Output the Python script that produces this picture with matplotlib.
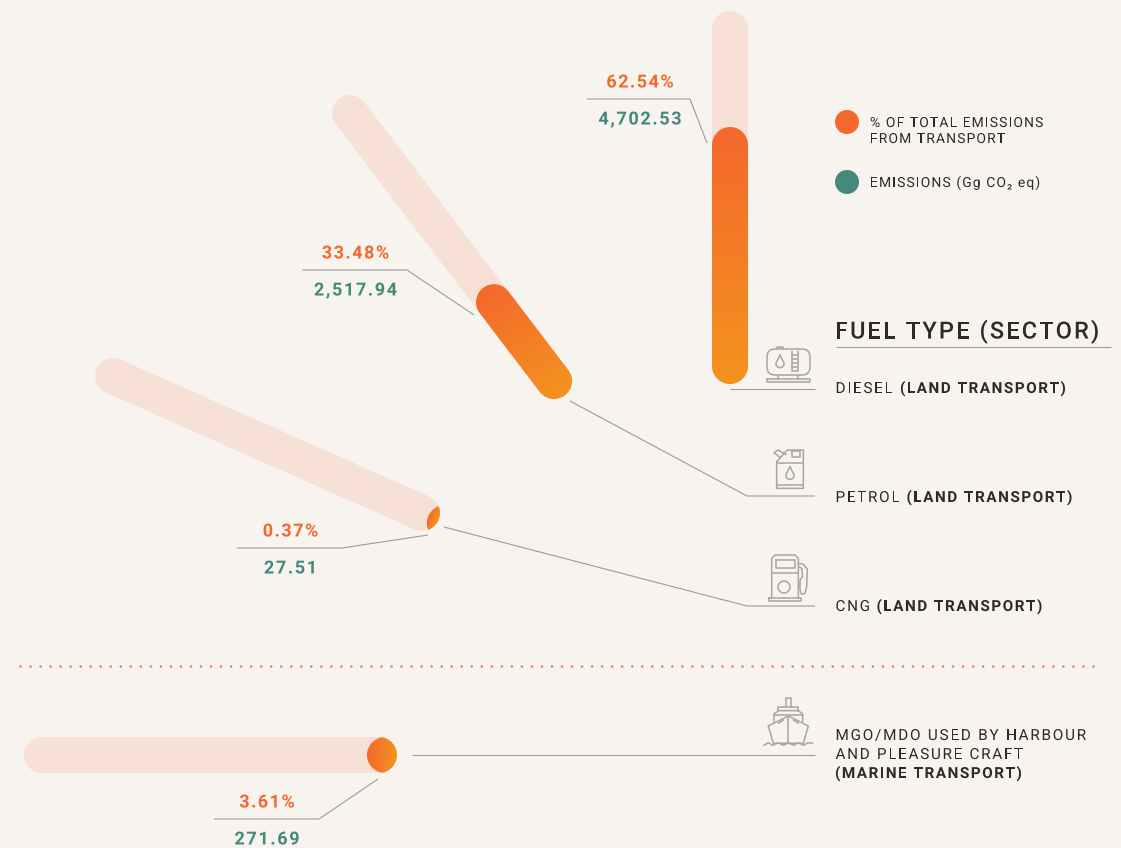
import numpy as np
import matplotlib
matplotlib.use('Agg')
import matplotlib.pyplot as plt
import matplotlib.patheffects as pe
from matplotlib.patches import Circle, FancyBboxPatch
from matplotlib.text import Text

# values
fuels = ['DIESEL', 'PETROL', 'CNG', 'MGO/MDO']
share_pct = [62.54, 33.48, 0.37, 3.61]
emissions = [4702.53, 2517.94, 27.51, 271.69]

# the picture's bar scale is not linear at the small end
scale_pct = [0.37, 3.61, 33.48, 62.54]
scale_px = [11, 30, 135, 257]

BG = '#F7F3EE'
TRACK = '#F7E0D6'
ORANGE = '#F4682D'
AMBER = '#F5931E'
GREEN = '#45897D'
DARK = '#2B2B2B'
LINE = '#9C9C9C'
ICON = '#A6A6A6'
R = 18.0

plt.rcParams['font.family'] = ['Roboto', 'DejaVu Sans']
plt.rcParams['text.hinting'] = 'none'

fig = plt.figure(figsize=(11.21, 8.48), dpi=100, facecolor=BG)
ax = fig.add_axes((0, 0, 1, 1))
ax.set_xlim(0, 1121)
ax.set_ylim(848, 0)
ax.axis('off')


class TrackedText(Text):
    # one string, drawn with extra letter spacing (matplotlib has no option for it)
    def __init__(self, x, y, s, tracking=0.0, anchor='left', **kw):
        super().__init__(x, y, s, ha='left', va='baseline', **kw)
        self.tracking = tracking
        self.anchor = anchor
        # drawn as paths, so glyphs are not snapped to whole pixels
        self.set_path_effects([pe.Normal()])

    def draw(self, renderer):
        full = self.get_text()
        x0, y0 = self.get_position()
        fp = self.get_fontproperties()

        def width(s):
            w1 = renderer.get_text_width_height_descent(s + 'x', fp, False)[0]
            w2 = renderer.get_text_width_height_descent('x', fp, False)[0]
            return w1 - w2

        total = width(full) + self.tracking * (len(full) - 1)
        start = x0 - total / 2 if self.anchor == 'center' else x0
        for i, ch in enumerate(full):
            if ch == ' ':
                continue
            self._text = ch
            self._x = start + width(full[:i]) + i * self.tracking
            super().draw(renderer)
        self._text = full
        self._x = x0


def label(x, y, s, size, color=DARK, weight='normal', tracking=1.5, anchor='left'):
    t = TrackedText(x, y, s, tracking=tracking, anchor=anchor, fontsize=size,
                    color=color, fontweight=weight)
    ax.add_artist(t)
    return t


def path_line(pts, color=LINE, lw=0.8):
    xs, ys = zip(*pts)
    ax.plot(xs, ys, color=color, lw=lw, solid_joinstyle='miter', solid_capstyle='butt', zorder=2)


def capsule_dist(px, py, a, b):
    # distance to the segment a-b, minus the radius
    ab = np.array(b, float) - np.array(a, float)
    denom = max((ab ** 2).sum(), 1e-9)
    t = np.clip(((px - a[0]) * ab[0] + (py - a[1]) * ab[1]) / denom, 0, 1)
    return np.hypot(px - a[0] - t * ab[0], py - a[1] - t * ab[1]) - R


yy, xx = np.mgrid[0:848, 0:1121]
xx = xx + 0.5
yy = yy + 0.5
c0 = np.array(matplotlib.colors.to_rgb(ORANGE))
c1 = np.array(matplotlib.colors.to_rgb(AMBER))


def bar(start, tip, value):
    start = np.array(start, float)
    tip = np.array(tip, float)
    ax.plot([start[0], tip[0]], [start[1], tip[1]], color=TRACK, lw=2 * R * 72 / 100,
            solid_capstyle='round', zorder=1)
    u = (tip - start) / np.hypot(*(tip - start))
    length = np.interp(value, scale_pct, scale_px)
    # the filled capsule starts "length" back from the end of the track, and is cut by it
    fill_start = tip + u * (2 * R - length)
    end = tip + u * R
    d = np.maximum(capsule_dist(xx, yy, fill_start, tip if length >= 2 * R else fill_start),
                   capsule_dist(xx, yy, start, tip))
    t = np.clip(1 - ((end[0] - xx) * u[0] + (end[1] - yy) * u[1]) / length, 0, 1)
    img = np.zeros(xx.shape + (4,))
    img[..., :3] = c0 + (c1 - c0) * t[..., None]
    img[..., 3] = np.clip(0.5 - d, 0, 1)
    ax.imshow(img, extent=(0, 1121, 848, 0), interpolation='nearest', aspect='auto', zorder=1.5)


bar((730, 29), (730, 366), share_pct[0])
bar((350, 113), (554, 381), share_pct[1])
bar((113, 376), (422, 513), share_pct[2])
bar((42, 755), (379, 755), share_pct[3])
ax.set_xlim(0, 1121)
ax.set_ylim(848, 0)

# value labels: centre x, baseline of % and of emissions
label_pos = [(640, 87.5, 124.5), (355.5, 258.5, 295.5), (290.5, 536.5, 573.5), (267, 807.5, 844.5)]
for (x, y1, y2), p, e in zip(label_pos, share_pct, emissions):
    label(x, y1, f'{p:.2f}%', 13, ORANGE, 'bold', 1.5, 'center')
    label(x, y2, f'{e:,.2f}', 13, GREEN, 'bold', 1.65, 'center')

# leaders
path_line([(587, 99), (690, 99), (707, 143)])
path_line([(302, 270), (407, 270), (474, 315)])
path_line([(237, 548), (342, 548), (428, 535)])
path_line([(214, 819), (319, 819), (378, 779)])
path_line([(730, 389), (815, 389)])
path_line([(570, 401), (747, 496), (815, 496)])
path_line([(444, 527), (747, 606), (815, 606)])
path_line([(412, 755), (815, 755)])
path_line([(836, 347), (1111, 347)])

# dotted divider
ax.plot([20, 1096], [666, 666], color=ORANGE, lw=1.9, alpha=0.85, linestyle=(0, (0.01, 3.79)),
        dash_capstyle='round', zorder=2)

# legend
ax.add_patch(Circle((847, 122), 12, color=ORANGE, lw=0))
ax.add_patch(Circle((847, 182), 12, color=GREEN, lw=0))
label(870, 127, '% OF TOTAL EMISSIONS', 10, DARK, tracking=1.12)
label(870, 143, 'FROM TRANSPORT', 10, DARK, tracking=1.12)
label(870, 187, 'EMISSIONS (Gg CO₂ eq)', 10, DARK, tracking=1.12)

label(835, 338.5, 'FUEL TYPE (SECTOR)', 17, DARK, 'medium', tracking=2.1)

label(835.5, 393, 'DIESEL', 11, DARK, tracking=1.7)
label(900, 393, '(LAND TRANSPORT)', 11, DARK, 'bold', tracking=1.53)
label(835.5, 502, 'PETROL', 11, DARK, tracking=1.7)
label(906.5, 502, '(LAND TRANSPORT)', 11, DARK, 'bold', tracking=1.53)
label(835.5, 611, 'CNG', 11, DARK, tracking=1.7)
label(876.5, 611, '(LAND TRANSPORT)', 11, DARK, 'bold', tracking=1.53)
label(835.5, 740, 'MGO/MDO USED BY HARBOUR', 11, DARK, tracking=1.78)
label(835.5, 759, 'AND PLEASURE CRAFT', 11, DARK, tracking=1.7)
label(835, 778, '(MARINE TRANSPORT)', 11, DARK, 'bold', tracking=1.53)


def ic(pts, org, closed=False):
    p = [(org[0] + x / 3, org[1] + y / 3) for x, y in pts]
    if closed:
        p.append(p[0])
    xs, ys = zip(*p)
    ax.plot(xs, ys, color=ICON, lw=1.1, solid_joinstyle='round', solid_capstyle='round', zorder=2)


def drop(cx, cy, org):
    a = np.linspace(-0.25 * np.pi, 1.25 * np.pi, 24)
    pts = [(cx, cy - 20)] + [(cx + 12 * np.cos(v), cy + 6 + 12 * np.sin(v)) for v in a]
    ic(pts, org, True)


def rbox(x, y, w, h, r):
    ax.add_patch(FancyBboxPatch((x + r, y + r), w - 2 * r, h - 2 * r, boxstyle=f'round,pad={r}',
                                fc='none', ec=ICON, lw=1.1, zorder=2))


# diesel tank
o = (740, 330)
rbox(767, 349, 43, 26, 8)
ic([(112, 58), (112, 50), (130, 50), (130, 58)], o)
ic([(155, 62), (155, 122), (175, 122), (175, 62)], o)
for y in [75, 87, 99, 111]:
    ic([(155, y), (175, y)], o)
drop(120, 95, o)
ic([(115, 135), (115, 148)], o)
ic([(175, 135), (175, 148)], o)
ic([(80, 148), (210, 148), (210, 157), (80, 157)], o, True)

# petrol can
o = (750, 440)
ic([(80, 65), (112, 30), (160, 30), (160, 145), (80, 145)], o, True)
ic([(80, 70), (160, 70)], o)
ic([(80, 135), (160, 135)], o)
ic([(125, 33), (150, 33), (150, 50), (125, 50)], o, True)
ic([(90, 52), (72, 38), (85, 30), (108, 44)], o)
drop(120, 100, o)

# cng pump
o = (750, 545)
ic([(65, 160), (65, 40), (75, 30), (135, 30), (145, 40), (145, 160)], o)
ic([(78, 45), (135, 45), (135, 70), (78, 70)], o, True)
ic([(65, 83), (145, 83)], o)
ax.add_patch(Circle((784, 587), 6, fc='none', ec=ICON, lw=1.1, zorder=2))
ic([(57, 160), (152, 160), (152, 167), (57, 167)], o, True)
ic([(145, 55), (160, 58), (172, 72), (170, 125), (165, 145), (155, 148), (150, 135), (150, 105),
    (158, 95), (155, 70), (147, 65)], o)

# ship
o = (750, 690)
ic([(108, 50), (108, 25), (122, 25), (122, 50)], o)
ic([(85, 62), (85, 50), (145, 50), (145, 62)], o)
ic([(72, 95), (72, 72), (85, 62), (145, 62), (158, 72), (158, 95)], o)
ic([(72, 75), (158, 75)], o)
ic([(55, 108), (115, 78), (175, 108), (160, 160), (70, 160)], o, True)
ic([(115, 78), (115, 155)], o)
ic([(100, 90), (85, 100)], o)
ic([(130, 90), (145, 100)], o)
ic([(42, 166), (55, 158), (68, 166), (85, 158), (100, 166), (115, 158), (130, 166), (145, 158),
    (160, 166), (175, 158), (188, 160)], o)

fig.savefig('out.png', dpi=100, facecolor=BG)
